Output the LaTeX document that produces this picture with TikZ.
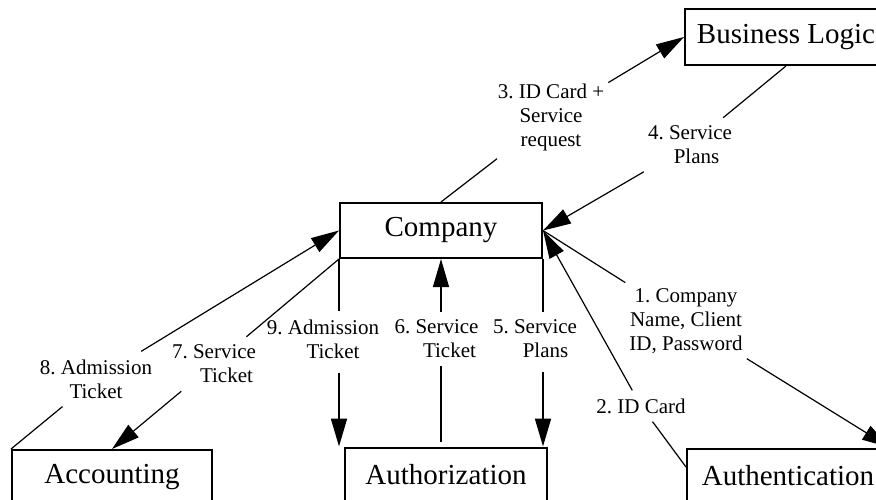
\documentclass[tikz,border=0pt]{standalone}
\usepackage{fontspec}
\setmainfont{Liberation Serif}
\usetikzlibrary{arrows.meta}
\frenchspacing
\begin{document}
\begin{tikzpicture}[x=1pt,y=-1pt,
  box/.style={draw,line width=2pt,minimum width=202pt,minimum height=55pt,
    inner sep=0pt,font=\fontsize{29}{34}\selectfont},
  msg/.style={align=center,inner xsep=4pt,inner ysep=8pt,
    font=\fontsize{21}{24}\selectfont},
  conn/.style={line width=1.2pt},
  arr/.style={conn,-{Triangle[length=28pt,width=16pt]}},
  bus/.style={line width=1.8pt}
]
\useasboundingbox[fill=white] (0,0) rectangle (876,500);
\clip (0,0) rectangle (876,500);

% components
\node[box] (company) at (441,230.5) {Company};
\node[box,minimum height=56pt] (logic) at (786,37) {Business Logic};
\node[box,minimum width=200pt] (accounting) at (112,477.5) {Accounting};
\node[box] (authz) at (446,475) {Authorization};
\node[box] (authn) at (788,476) {Authentication};

% message labels
\node[msg] (l1) at (686,321) {1. Company\\Name, Client\\ID, Password};
\node[msg] (l2) at (641,406) {2. ID Card};
\node[msg] (l3) at (551,117) {3. ID Card +\\Service\\request};
\node[msg] (l4) at (690,145) {4. Service\\\hspace*{13pt}Plans};
\node[msg] (l5) at (535,339) {5. Service\\\hspace*{21pt}Plans};
\node[msg] (l6) at (436.5,339) {6. Service\\\hspace*{26pt}Ticket};
\node[msg] (l7) at (214,364) {7. Service\\\hspace*{25pt}Ticket};
\node[msg] (l8) at (96,379) {8. Admission\\Ticket};
\node[msg] (l9) at (323,339) {9. Admission\\\hspace*{20pt}Ticket};

% 1: login request
\draw[conn] (company.east) -- (l1);
\draw[arr] (l1) -- (authn.north east);
% 2: ID card back to the company
\draw[conn] ([yshift=9pt]authn.west) -- (l2);
\draw[arr] (l2) -- (company.east);
% 3: service request
\draw[conn] (company.north) -- (l3);
\draw[arr] (l3) -- (logic.west);
% 4: service plans
\draw[conn] (logic.south) -- (l4);
\draw[arr] (l4) -- (company.east);
% 5: service plans to authorization
\draw[bus] (company.south east) -- (company.south east |- l5.north);
\draw[arr,bus,shorten <=6pt] (company.south east |- l5.south) -- (company.south east |- authz.north);
% 6: service ticket
\draw[conn,shorten <=5pt] (company.south |- authz.north) -- (company.south |- l6.south);
\draw[arr] (company.south |- l6.north) -- (company.south);
% 7: service ticket to accounting
\draw[conn] (company.south west) -- (l7);
\draw[arr] (l7) -- (accounting.north);
% 8: admission ticket
\draw[conn] (accounting.north west) -- (l8);
\draw[arr] (l8) -- (company.west);
% 9: admission ticket to authorization
\draw[bus] (company.south west) -- (company.south west |- l9.north);
\draw[arr,bus,shorten <=6pt] (company.south west |- l9.south) -- (company.south west |- authz.north);
\end{tikzpicture}
\end{document}
